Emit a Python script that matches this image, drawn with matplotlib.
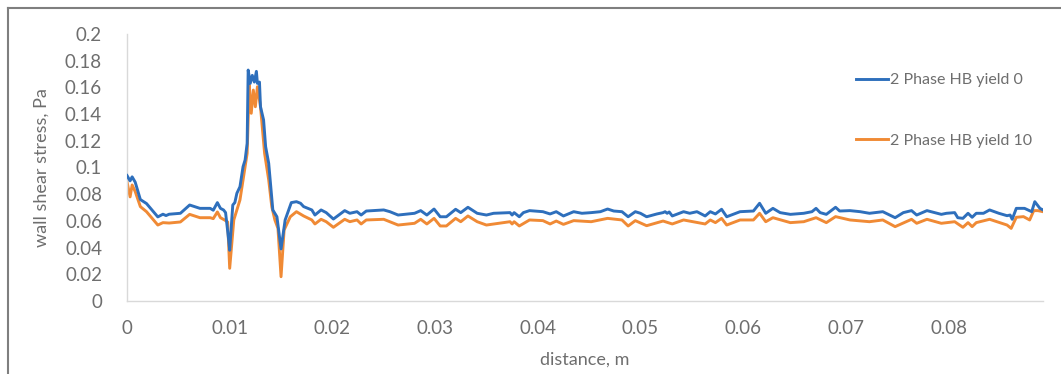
import matplotlib

matplotlib.use("Agg")

import matplotlib.pyplot as plt
from matplotlib.lines import Line2D

# wall shear stress along the wall, two Herschel-Bulkley cases
x_hb0 = [
    0.0, 0.0003, 0.0005, 0.0008, 0.0013, 0.0019, 0.0030, 0.0035, 0.0038, 0.0041,
    0.0052, 0.0061, 0.0071, 0.0081, 0.0084, 0.0088, 0.0091, 0.0094, 0.0096, 0.0099,
    0.0100, 0.0103, 0.0105, 0.0107, 0.0110, 0.0113, 0.0115, 0.0117, 0.0118, 0.0120,
    0.0122, 0.0124, 0.0126, 0.0127, 0.0129, 0.0130, 0.0133, 0.0135, 0.0138, 0.0140,
    0.0142, 0.0146, 0.0150, 0.0154, 0.0160, 0.0165, 0.0169, 0.0172, 0.0180, 0.0183,
    0.0189, 0.0194, 0.0201, 0.0212, 0.0217, 0.0224, 0.0228, 0.0233, 0.0250, 0.0256,
    0.0264, 0.0280, 0.0286, 0.0292, 0.0299, 0.0305, 0.0311, 0.0320, 0.0325, 0.0332,
    0.0341, 0.0350, 0.0357, 0.0373, 0.0375, 0.0377, 0.0382, 0.0386, 0.0392, 0.0405,
    0.0412, 0.0418, 0.0425, 0.0435, 0.0443, 0.0452, 0.0461, 0.0468, 0.0474, 0.0482,
    0.0488, 0.0495, 0.0500, 0.0506, 0.0516, 0.0522, 0.0524, 0.0526, 0.0528, 0.0531,
    0.0542, 0.0548, 0.0555, 0.0563, 0.0568, 0.0573, 0.0579, 0.0584, 0.0597, 0.0610,
    0.0616, 0.0622, 0.0629, 0.0636, 0.0646, 0.0659, 0.0667, 0.0671, 0.0675, 0.0681,
    0.0690, 0.0694, 0.0704, 0.0714, 0.0723, 0.0736, 0.0748, 0.0756, 0.0764, 0.0769,
    0.0779, 0.0793, 0.0798, 0.0806, 0.0809, 0.0814, 0.0819, 0.0823, 0.0827, 0.0834,
    0.0840, 0.0849, 0.0857, 0.0860, 0.0862, 0.0866, 0.0874, 0.0881, 0.0884, 0.0889,
    0.0892,
]
wss_hb0 = [
    0.094, 0.090, 0.093, 0.089, 0.076, 0.073, 0.063, 0.065, 0.064, 0.065,
    0.0657, 0.0719, 0.0694, 0.0694, 0.068, 0.0737, 0.0694, 0.0682, 0.0662, 0.0457,
    0.038, 0.0719, 0.0737, 0.0807, 0.0856, 0.1006, 0.1056, 0.118, 0.173, 0.163,
    0.169, 0.164, 0.172, 0.163, 0.164, 0.1455, 0.1356, 0.1156, 0.1031, 0.0856,
    0.0682, 0.0631, 0.039, 0.0607, 0.0737, 0.0744, 0.0732, 0.0707, 0.0682, 0.0644,
    0.0682, 0.0662, 0.0614, 0.0677, 0.0657, 0.0669, 0.0644, 0.0674, 0.0682, 0.0669,
    0.0644, 0.0657, 0.0677, 0.0644, 0.0689, 0.0631, 0.0631, 0.0687, 0.0662, 0.0702,
    0.0657, 0.0644, 0.0657, 0.0662, 0.0644, 0.0662, 0.0631, 0.0662, 0.0677, 0.0669,
    0.0652, 0.0669, 0.0637, 0.0669, 0.0657, 0.0662, 0.0669, 0.0689, 0.0674, 0.0669,
    0.0631, 0.0669, 0.0657, 0.0631, 0.0652, 0.0662, 0.0669, 0.0657, 0.0667, 0.0637,
    0.0669, 0.0657, 0.0669, 0.0637, 0.0669, 0.0652, 0.0687, 0.0631, 0.0669, 0.0674,
    0.0732, 0.0657, 0.0694, 0.0662, 0.0649, 0.0657, 0.0669, 0.0694, 0.0662, 0.0649,
    0.0702, 0.0674, 0.0677, 0.0669, 0.0657, 0.0669, 0.0624, 0.0662, 0.0677, 0.0644,
    0.0677, 0.0649, 0.0657, 0.0662, 0.0624, 0.0619, 0.0657, 0.0627, 0.0657, 0.0657,
    0.0682, 0.0657, 0.0639, 0.0644, 0.0612, 0.0694, 0.0694, 0.0669, 0.0744, 0.0694,
    0.0682,
]

x_hb10 = [
    0.0, 0.0003, 0.0005, 0.0008, 0.0013, 0.0019, 0.0030, 0.0035, 0.0041, 0.0052,
    0.0061, 0.0071, 0.0081, 0.0084, 0.0088, 0.0091, 0.0095, 0.0098, 0.0100, 0.0104,
    0.0107, 0.0110, 0.0113, 0.0117, 0.0119, 0.0121, 0.0123, 0.0125, 0.0127, 0.0130,
    0.0132, 0.0134, 0.0138, 0.0141, 0.0144, 0.0147, 0.0150, 0.0153, 0.0159, 0.0165,
    0.0172, 0.0180, 0.0183, 0.0189, 0.0194, 0.0201, 0.0212, 0.0217, 0.0224, 0.0228,
    0.0233, 0.0250, 0.0264, 0.0280, 0.0286, 0.0292, 0.0299, 0.0305, 0.0311, 0.0320,
    0.0325, 0.0332, 0.0341, 0.0350, 0.0373, 0.0375, 0.0377, 0.0382, 0.0392, 0.0405,
    0.0412, 0.0418, 0.0425, 0.0435, 0.0452, 0.0468, 0.0482, 0.0488, 0.0495, 0.0506,
    0.0522, 0.0531, 0.0542, 0.0563, 0.0568, 0.0573, 0.0579, 0.0584, 0.0597, 0.0610,
    0.0616, 0.0622, 0.0629, 0.0646, 0.0659, 0.0671, 0.0681, 0.0690, 0.0704, 0.0723,
    0.0736, 0.0748, 0.0764, 0.0769, 0.0779, 0.0793, 0.0806, 0.0814, 0.0819, 0.0823,
    0.0827, 0.0840, 0.0857, 0.0861, 0.0866, 0.0873, 0.0879, 0.0883, 0.0887, 0.0892,
]
wss_hb10 = [
    0.0894, 0.078, 0.0869, 0.082, 0.0707, 0.0669, 0.0569, 0.0587, 0.0584, 0.0592,
    0.0649, 0.0624, 0.0624, 0.0617, 0.0667, 0.0624, 0.0607, 0.0592, 0.0245, 0.0607,
    0.0682, 0.0757, 0.0906, 0.1106, 0.1618, 0.1406, 0.158, 0.1455, 0.1605, 0.1455,
    0.128, 0.1106, 0.0906, 0.0706, 0.0607, 0.0544, 0.0182, 0.0532, 0.0631, 0.0669,
    0.0637, 0.0607, 0.0577, 0.0612, 0.0594, 0.0552, 0.0612, 0.0594, 0.0607, 0.0577,
    0.0607, 0.0612, 0.0569, 0.0582, 0.0612, 0.0577, 0.0619, 0.0562, 0.0562, 0.0619,
    0.0594, 0.0637, 0.0594, 0.0569, 0.0594, 0.0577, 0.0594, 0.0562, 0.0607, 0.0602,
    0.0577, 0.0599, 0.0574, 0.0602, 0.0594, 0.0619, 0.0607, 0.0562, 0.0602, 0.0564,
    0.0599, 0.0577, 0.0607, 0.0577, 0.0607, 0.0587, 0.0619, 0.0569, 0.0607, 0.0607,
    0.0657, 0.0594, 0.0624, 0.0587, 0.0594, 0.0624, 0.0587, 0.0632, 0.0607, 0.0594,
    0.0607, 0.0557, 0.0612, 0.0582, 0.0612, 0.0582, 0.0594, 0.0552, 0.0587, 0.0557,
    0.0587, 0.0612, 0.0569, 0.0544, 0.0627, 0.0632, 0.0607, 0.0677, 0.0677, 0.0669,
]

x_ticks = [0, 0.01, 0.02, 0.03, 0.04, 0.05, 0.06, 0.07, 0.08]
y_ticks = [0, 0.02, 0.04, 0.06, 0.08, 0.1, 0.12, 0.14, 0.16, 0.18, 0.2]

BLUE = "#2e6fbc"
ORANGE = "#f08a35"
TEXT = "#6e6e6e"

plt.rcParams["font.family"] = ["Lato", "DejaVu Sans"]

fig = plt.figure(figsize=(10.61, 3.74), dpi=100)
ax = fig.add_axes([127 / 1061, 1 - 301 / 374, (1043 - 127) / 1061, (301 - 34) / 374])

ax.plot(x_hb0, wss_hb0, color=BLUE, lw=2.1, label="2 Phase HB yield 0", zorder=3)
ax.plot(x_hb10, wss_hb10, color=ORANGE, lw=2.1, label="2 Phase HB yield 10", zorder=2)

ax.set_xlim(0, 0.0892)
ax.set_ylim(0, 0.2)
ax.set_xticks(x_ticks, [f"{t:g}" for t in x_ticks])
ax.set_yticks(y_ticks, [f"{t:g}" for t in y_ticks])
ax.tick_params(length=0, labelsize=13.5, colors=TEXT)
ax.tick_params(axis="y", pad=18)
ax.tick_params(axis="x", pad=14)

for side in ("top", "right"):
    ax.spines[side].set_visible(False)
for side in ("left", "bottom"):
    ax.spines[side].set_color("#d9d9d9")
    ax.spines[side].set_linewidth(1.0)

ax.set_xlabel("distance, m", fontsize=13, color=TEXT, labelpad=10)
ax.set_ylabel("wall shear stress, Pa", fontsize=13, color=TEXT, labelpad=11)

ax.legend(
    loc="upper left",
    bbox_to_anchor=(856 / 1061, 1 - 73 / 374),
    bbox_transform=fig.transFigure,
    frameon=False,
    fontsize=11.5,
    labelcolor=TEXT,
    handlelength=2.0,
    handletextpad=0.15,
    labelspacing=2.9,
    borderpad=0,
    borderaxespad=0,
)

# outer chart frame (left and top edges only)
fig.add_artist(Line2D([8 / 1061, 8 / 1061], [0, 1 - 8 / 374],
                      transform=fig.transFigure, color="#7f7f7f", lw=1.5))
fig.add_artist(Line2D([8 / 1061, 1], [1 - 8 / 374, 1 - 8 / 374],
                      transform=fig.transFigure, color="#7f7f7f", lw=1.5))

fig.savefig("out.png", dpi=100)
